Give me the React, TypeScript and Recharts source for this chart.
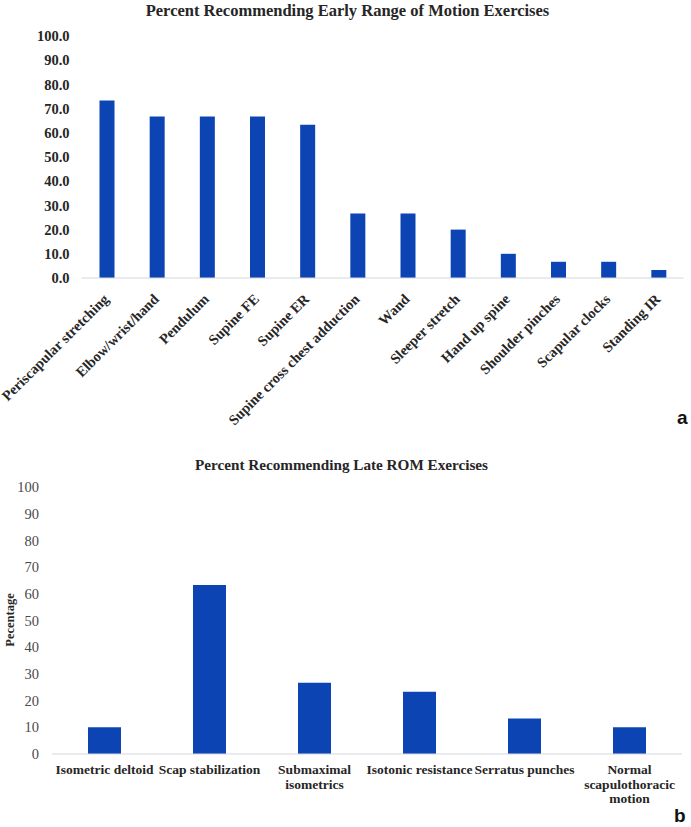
import React from 'react';
import { BarChart, Bar, XAxis, YAxis } from 'recharts';

// ---------------------------------------------------------------------------
// Data
// ---------------------------------------------------------------------------

const EARLY_EXERCISES = [
  'Periscapular stretching',
  'Elbow/wrist/hand',
  'Pendulum',
  'Supine FE',
  'Supine ER',
  'Supine cross chest adduction',
  'Wand',
  'Sleeper stretch',
  'Hand up spine',
  'Shoulder pinches',
  'Scapular clocks',
  'Standing IR',
];
const EARLY_PERCENT = [73.3, 66.7, 66.7, 66.7, 63.3, 26.7, 26.7, 20.0, 10.0, 6.7, 6.7, 3.3];

const LATE_EXERCISES = [
  'Isometric deltoid',
  'Scap stabilization',
  'Submaximal\nisometrics',
  'Isotonic resistance',
  'Serratus punches',
  'Normal\nscapulothoracic\nmotion',
];
const LATE_PERCENT = [10.0, 63.3, 26.7, 23.3, 13.3, 10.0];

const Y_TICKS = [0, 10, 20, 30, 40, 50, 60, 70, 80, 90, 100];

const earlyData = EARLY_EXERCISES.map((name, i) => ({ name, value: EARLY_PERCENT[i] }));
const lateData = LATE_EXERCISES.map((name, i) => ({ name, value: LATE_PERCENT[i] }));

const BAR_COLOR = '#0c44b4';
const SERIF = '"Liberation Serif", "Times New Roman", serif';

// ---------------------------------------------------------------------------
// Ticks
// ---------------------------------------------------------------------------

function SlantTick({ x, y, payload }: any) {
  return (
    <text
      transform={`translate(${x + 3},${y + 14}) rotate(-45)`}
      textAnchor="end"
      fontFamily={SERIF}
      fontWeight="bold"
      fontSize={14.5}
      fill="#262626"
    >
      {payload.value}
    </text>
  );
}

function WrapTick({ x, y, payload }: any) {
  const lines = String(payload.value).split('\n');
  return (
    <text
      x={x}
      y={y + 12}
      textAnchor="middle"
      fontFamily={SERIF}
      fontWeight="bold"
      fontSize={13.5}
      fill="#262626"
    >
      {lines.map((line, i) => (
        <tspan key={i} x={x} dy={i === 0 ? 0 : 14.5}>
          {line}
        </tspan>
      ))}
    </text>
  );
}

const titleStyle: React.CSSProperties = {
  position: 'absolute',
  width: 691,
  textAlign: 'center',
  fontFamily: SERIF,
  fontWeight: 'bold',
  fontSize: 16.5,
  color: '#262626',
  lineHeight: '20px',
};

const panelLetter: React.CSSProperties = {
  position: 'absolute',
  fontFamily: '"Liberation Sans", Arial, sans-serif',
  fontWeight: 'bold',
  fontSize: 19,
  color: '#111',
  lineHeight: '20px',
};

export default function App() {
  return (
    <div
      style={{
        position: 'absolute',
        left: 0,
        top: 0,
        width: 691,
        height: 827,
        background: '#fff',
        overflow: 'hidden',
      }}
    >
      {/* ── Panel a ─────────────────────────────────────────── */}
      <div style={{ ...titleStyle, top: 1, left: 2 }}>
        Percent Recommending Early Range of Motion Exercises
      </div>
      <div style={{ position: 'absolute', left: 0, top: 0 }}>
        <BarChart
          width={691}
          height={440}
          data={earlyData}
          margin={{ top: 36, right: 7.5, left: 0, bottom: 0 }}
        >
          <XAxis
            dataKey="name"
            height={162}
            interval={0}
            tickLine={false}
            stroke="#d3d7df"
            tick={<SlantTick />}
          />
          <YAxis
            width={81.5}
            domain={[0, 100]}
            ticks={Y_TICKS}
            axisLine={false}
            tickLine={false}
            tickMargin={6}
            tickFormatter={(v: number) => v.toFixed(1)}
            tick={{ fontFamily: SERIF, fontWeight: 'bold', fontSize: 14.5, fill: '#262626' }}
          />
          <Bar dataKey="value" fill={BAR_COLOR} barSize={15} isAnimationActive={false} />
        </BarChart>
      </div>
      <div style={{ ...panelLetter, left: 677, top: 408 }}>a</div>

      {/* ── Panel b ─────────────────────────────────────────── */}
      <div style={{ ...titleStyle, top: 455, left: -4, fontSize: 15.2 }}>
        Percent Recommending Late ROM Exercises
      </div>
      <div style={{ position: 'absolute', left: 0, top: 440 }}>
        <BarChart
          width={691}
          height={387}
          data={lateData}
          margin={{ top: 47, right: 9, left: 0, bottom: 0 }}
        >
          <XAxis
            dataKey="name"
            height={73}
            interval={0}
            tickLine={false}
            stroke="#d3d7df"
            tick={<WrapTick />}
          />
          <YAxis
            width={52}
            domain={[0, 100]}
            ticks={Y_TICKS}
            axisLine={false}
            tickLine={false}
            tickMargin={7}
            tick={{ fontFamily: SERIF, fontSize: 14.5, fill: '#4a4a4a' }}
          />
          <Bar dataKey="value" fill={BAR_COLOR} barSize={33} isAnimationActive={false} />
        </BarChart>
      </div>
      <svg
        width={24}
        height={120}
        style={{ position: 'absolute', left: 0, top: 560 }}
      >
        <text
          transform="translate(14,60) rotate(-90)"
          textAnchor="middle"
          fontFamily={SERIF}
          fontWeight="bold"
          fontSize={12.5}
          fill="#262626"
        >
          Pecentage
        </text>
      </svg>
      <div style={{ ...panelLetter, left: 674, top: 806 }}>b</div>
    </div>
  );
}
